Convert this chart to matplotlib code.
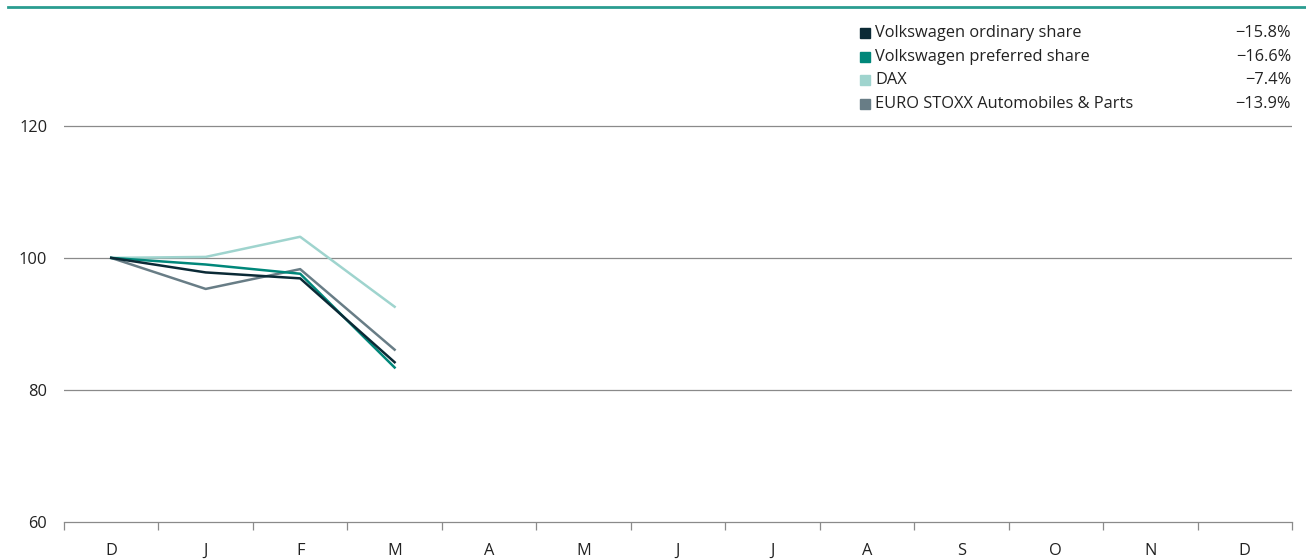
import matplotlib.pyplot as plt
from matplotlib.lines import Line2D
from matplotlib.patches import Rectangle

plt.rcParams['font.family'] = ['Open Sans', 'DejaVu Sans']

# Dados
meses = ["D", "J", "F", "M", "A", "M", "J", "J", "A", "S", "O", "N", "D"]
ordinaria = [100, 97.8, 96.9, 84.2]
preferencial = [100, 99.0, 97.6, 83.4]
dax = [100, 100.15, 103.2, 92.6]
euro_stoxx = [100, 95.3, 98.3, 86.1]

nomes = ["Volkswagen ordinary share", "Volkswagen preferred share", "DAX",
         "EURO STOXX Automobiles & Parts"]
variacoes = ["\u221215.8%", "\u221216.6%", "\u22127.4%", "\u221213.9%"]
cores = ["#0b2a36", "#00877a", "#9fd4ce", "#687d86"]
series = [ordinaria, preferencial, dax, euro_stoxx]

W, H = 1306, 560
fz = 11.8
fig = plt.figure(figsize=(W / 100, H / 100), dpi=100)
ax = fig.add_axes([64 / W, 1 - 522 / H, (1292 - 64) / W, (522 - 7) / H])

# linhas horizontais
for y in [80, 100, 120]:
    ax.axhline(y, color="#8a8a8a", lw=0.9, zorder=1)

# ordem de desenho: DAX e Euro atras
ordem = [2, 3, 1, 0]
for i in ordem:
    ax.plot(range(len(series[i])), series[i], color=cores[i], lw=1.8, zorder=3)

ax.set_xlim(-0.5, 12.5)
ax.set_ylim(60, 138)
ax.set_xticks([x - 0.5 for x in range(14)])
ax.set_xticklabels([])
ax.set_xticks(range(13), minor=True)
ax.set_xticklabels(meses, minor=True)
ax.tick_params(axis="x", which="major", length=6, color="#8a8a8a", width=0.9)
ax.tick_params(axis="x", which="minor", length=0, pad=15, labelsize=fz, labelcolor="#222222")
ax.set_yticks([60, 80, 100, 120])
ax.tick_params(axis="y", length=0, pad=12, labelsize=fz, labelcolor="#222222")
for s in ["top", "right", "left"]:
    ax.spines[s].set_visible(False)
ax.spines["bottom"].set_color("#8a8a8a")
ax.spines["bottom"].set_linewidth(0.9)

# linha superior
fig.add_artist(Line2D([8 / W, 1], [1 - 7 / H, 1 - 7 / H], color="#2a9d90", lw=2,
                      transform=fig.transFigure))

# legenda manual
ys = [33, 57, 80, 104]
for nome, var, cor, y in zip(nomes, variacoes, cores, ys):
    yf = 1 - y / H
    fig.add_artist(Rectangle((860 / W, 1 - (y + 5) / H), 10 / W, 10 / H, color=cor,
                             transform=fig.transFigure))
    fig.text(875 / W, yf, nome, color="#222222", fontsize=fz, va="center", ha="left")
    fig.text(1291 / W, yf, var, color="#222222", fontsize=fz, va="center", ha="right")

fig.savefig("out.png", dpi=100)
